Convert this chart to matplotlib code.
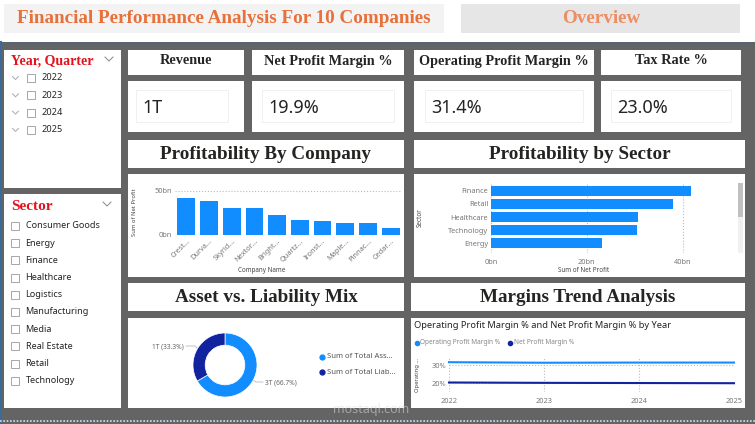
import matplotlib.pyplot as plt
from matplotlib.patches import Rectangle

# data
years = ['2022', '2023', '2024', '2025']
sectors_all = ['Consumer Goods', 'Energy', 'Finance', 'Healthcare', 'Logistics',
               'Manufacturing', 'Media', 'Real Estate', 'Retail', 'Technology']
kpi_names = ['Revenue', 'Net Profit Margin %', 'Operating Profit Margin %', 'Tax Rate %']
kpi_values = ['1T', '19.9%', '31.4%', '23.0%']

companies = ['Crest...', 'Durva...', 'Skyrid...', 'Nextor...', 'Bright...',
             'Quartz...', 'Ironst...', 'Maple...', 'Pinnac...', 'Cedar...']
company_profit = [42.0, 38.3, 31.0, 30.7, 23.0, 16.7, 15.9, 13.6, 13.6, 8.3]

sectors = ['Finance', 'Retail', 'Healthcare', 'Technology', 'Energy']
sector_profit = [41.8, 38.0, 30.7, 30.5, 23.2]

# trillions: assets, liabilities
mix_labels = ['Sum of Total Ass...', 'Sum of Total Liab...']
mix_values = [2.6, 1.3]

trend_years = [2022, 2023, 2024, 2025]
op_margin = [31.6, 31.3, 31.4, 31.4]
net_margin = [20.3, 20.1, 20.0, 19.9]

BLUE = '#118dff'
NAVY = '#12239e'
SERIF = 'Liberation Serif'
SANS = 'Noto Sans'

W, H = 755, 424
fig = plt.figure(figsize=(7.55, 4.24), dpi=100)
bg = fig.add_axes([0, 0, 1, 1])
bg.set_xlim(0, W)
bg.set_ylim(H, 0)
bg.axis('off')


def box(x0, y0, x1, y1, color, ec='none', lw=0):
    bg.add_patch(Rectangle((x0, y0), x1 - x0, y1 - y0, facecolor=color, edgecolor=ec, lw=lw))


def px_axes(x0, y0, x1, y1):
    return fig.add_axes([x0 / W, 1 - y1 / H, (x1 - x0) / W, (y1 - y0) / H])


def chevron(x, y, s=3.5, c='#999999'):
    bg.plot([x - s, x, x + s], [y - s / 2, y + s / 2, y - s / 2], color=c, lw=0.7)


# background
box(0, 0, W, H, 'white')
box(0, 42, W, H, '#646464')
bg.plot([0, W], [42.5, 42.5], color='#3d6b99', lw=1)
bg.plot([0.5, 0.5], [42, H], color='#3d6b99', lw=1.5)
bg.plot([0, W], [421, 421], color='#cfe0f0', lw=1.2, ls=(0, (1, 1)))

# top title boxes
box(4, 4, 444, 33, '#f3f3f3')
bg.text(224, 18.5, 'Financial Performance Analysis For 10 Companies', family=SERIF,
        weight='bold', size=13.8, color='#e8703a', ha='center', va='center')
box(461, 4, 740, 33, '#e6e6e6')
bg.text(601, 18.5, 'Overview', family=SERIF, weight='bold', size=13.8,
        color='#ef8d62', ha='center', va='center')

# year slicer
box(4, 50, 121, 188, 'white')
bg.text(11, 61, 'Year, Quarter', family=SERIF, weight='bold', size=10,
        color='#e3111b', va='center')
chevron(109, 59, 4, '#888888')
for i, y in enumerate(years):
    yy = 78 + i * 17.3
    chevron(15.5, yy, 3, '#aaaaaa')
    box(27, yy - 4, 35, yy + 4, 'white', ec='#999999', lw=0.6)
    bg.text(41, yy, y, family=SANS, size=6.6, color='#252423', va='center')

# sector slicer
box(4, 194, 121, 408, 'white')
bg.text(11, 206, 'Sector', family=SERIF, weight='bold', size=11,
        color='#e3111b', va='center')
chevron(107, 204, 4, '#888888')
for i, s in enumerate(sectors_all):
    yy = 226 + i * 17.2
    box(11, yy - 4, 19, yy + 4, 'white', ec='#999999', lw=0.6)
    bg.text(25.5, yy, s, family=SANS, size=6.5, color='#252423', va='center')

# KPI cards
cards = [(128, 244, 136, 228), (252, 404, 262, 394), (414, 594, 425, 583), (601, 741, 611, 731)]
for (x0, x1, i0, i1), name, val in zip(cards, kpi_names, kpi_values):
    box(x0, 50, x1, 75, 'white')
    bg.text((x0 + x1) / 2, 61, name, family=SERIF, weight='bold', size=10.3,
            color='#252423', ha='center', va='center')
    box(x0, 81, x1, 132, 'white')
    box(i0, 90, i1, 122, 'white', ec='#eeeeee', lw=0.6)
    bg.text(i0 + 6, 108, val, family=SANS, size=13, color='#252423', va='center')

# section headers
headers = [((128, 404, 140, 168), 'Profitability By Company'),
           ((414, 745, 140, 168), 'Profitability by Sector'),
           ((128, 404, 283, 311), 'Asset vs. Liability Mix'),
           ((411, 745, 283, 311), 'Margins Trend Analysis')]
for (x0, x1, y0, y1), t in headers:
    box(x0, y0, x1, y1, 'white')
    bg.text((x0 + x1) / 2, (y0 + y1) / 2 + 0.5, t, family=SERIF, weight='bold', size=13.8,
            color='#252423', ha='center', va='center')

# chart panels
box(128, 174, 404, 277, 'white')
box(414, 174, 745, 277, 'white')
box(128, 318, 404, 408, 'white')
box(411, 318, 745, 408, 'white')


def clean(ax):
    for sp in ax.spines.values():
        sp.set_visible(False)
    ax.tick_params(length=0, labelsize=5.3, labelcolor='#777777', pad=2)
    ax.set_facecolor('none')


# profitability by company
ax1 = px_axes(175, 189, 402, 235)
clean(ax1)
ax1.bar(range(len(companies)), company_profit, width=0.78, color=BLUE, zorder=3)
ax1.set_xlim(-0.5, len(companies) - 0.5)
ax1.set_ylim(0, 52)
ax1.set_yticks([0, 50])
ax1.set_yticklabels(['0bn', '50bn'], family=SANS)
ax1.set_xticks(range(len(companies)))
ax1.set_xticklabels(companies, rotation=45, ha='right', rotation_mode='anchor', family=SANS)
ax1.yaxis.grid(True, ls=':', color='#bbbbbb', lw=0.8)
ax1.set_axisbelow(True)
bg.text(134, 212, 'Sum of Net Profit', rotation=90, family=SANS, weight='bold', size=4.2,
        color='#444444', ha='center', va='center')
bg.text(262, 270, 'Company Name', family=SANS, weight='bold', size=4.5,
        color='#444444', ha='center', va='center')

# profitability by sector
ax2 = px_axes(491, 183, 721, 253)
clean(ax2)
ax2.barh(range(len(sectors)), sector_profit, height=0.72, color=BLUE, zorder=3)
ax2.set_ylim(len(sectors) - 0.25, -0.6)
ax2.set_xlim(0, 48)
ax2.set_xticks([0, 20, 40])
ax2.set_xticklabels(['0bn', '20bn', '40bn'], family=SANS)
ax2.set_yticks(range(len(sectors)))
ax2.set_yticklabels(sectors, family=SANS)
ax2.tick_params(axis='x', pad=4)
ax2.xaxis.grid(True, ls=':', color='#bbbbbb', lw=0.8)
ax2.set_axisbelow(True)
bg.text(420, 218, 'Sector', rotation=90, family=SANS, weight='bold', size=4.5,
        color='#444444', ha='center', va='center')
bg.text(584, 270, 'Sum of Net Profit', family=SANS, weight='bold', size=4.5,
        color='#444444', ha='center', va='center')
box(738, 183, 743, 253, '#f0f0f0')
box(738, 183, 743, 217, '#c0c0c0')

# asset vs liability donut
ax3 = px_axes(185, 325, 265, 405)
ax3.pie(mix_values, radius=1, startangle=90, counterclock=False, colors=[BLUE, NAVY],
        wedgeprops=dict(width=0.38, edgecolor='white', lw=0.5))
ax3.set_xlim(-1.25, 1.25)
ax3.set_ylim(-1.25, 1.25)
ax3.set_aspect('equal')
total = sum(mix_values)
bg.text(152, 347, '%dT (%.1f%%)' % (round(mix_values[1]), mix_values[1] / total * 100),
        family=SANS, size=4.8, color='#666666', va='center')
bg.plot([186, 195, 198], [346, 346, 349], color='#aaaaaa', lw=0.5)
bg.text(265, 383, '%dT (%.1f%%)' % (round(mix_values[0]), mix_values[0] / total * 100),
        family=SANS, size=4.8, color='#666666', va='center')
bg.plot([252, 256, 263], [379, 382, 382], color='#aaaaaa', lw=0.5)
for i, (lab, c) in enumerate(zip(mix_labels, [BLUE, NAVY])):
    yy = 357 + i * 15
    bg.plot(322, yy, 'o', ms=3.5, color=c)
    bg.text(327, yy, lab, family=SANS, size=5.5, color='#555555', va='center')

# margins trend
bg.text(414, 326, 'Operating Profit Margin % and Net Profit Margin % by Year',
        family=SANS, size=6.7, color='#252423', va='center')
bg.plot(417, 343, 'o', ms=3, color=BLUE)
bg.text(420, 343, 'Operating Profit Margin %', family=SANS, size=4.7,
        color='#888888', va='center')
bg.plot(510, 343, 'o', ms=3, color=NAVY)
bg.text(513.5, 343, 'Net Profit Margin %', family=SANS, size=4.7,
        color='#888888', va='center')
ax4 = px_axes(449, 357, 734, 392)
clean(ax4)
ax4.plot(trend_years, op_margin, color=BLUE, lw=1.5, clip_on=False, zorder=3)
ax4.plot(trend_years, net_margin, color=NAVY, lw=1.5, clip_on=False, zorder=3)
ax4.set_xlim(2022, 2025)
ax4.set_ylim(15, 34.5)
ax4.set_xticks(trend_years)
ax4.set_xticklabels([str(y) for y in trend_years], family=SANS)
ax4.set_yticks([20, 30])
ax4.set_yticklabels(['20%', '30%'], family=SANS)
ax4.tick_params(axis='x', pad=4)
ax4.grid(True, ls=':', color='#bbbbbb', lw=0.8)
ax4.set_axisbelow(True)
bg.text(417, 375, 'Operating ...', rotation=90, family=SANS, weight='bold', size=4.2,
        color='#444444', ha='center', va='center')

# faint watermark
wm = fig.add_axes([0, 0, 1, 1])
wm.set_xlim(0, W)
wm.set_ylim(H, 0)
wm.axis('off')
wm.text(333, 409, 'mostaql.com', family=SANS, size=9, color='#dddddd', alpha=0.55,
        va='center')

fig.savefig('out.png', dpi=100)
